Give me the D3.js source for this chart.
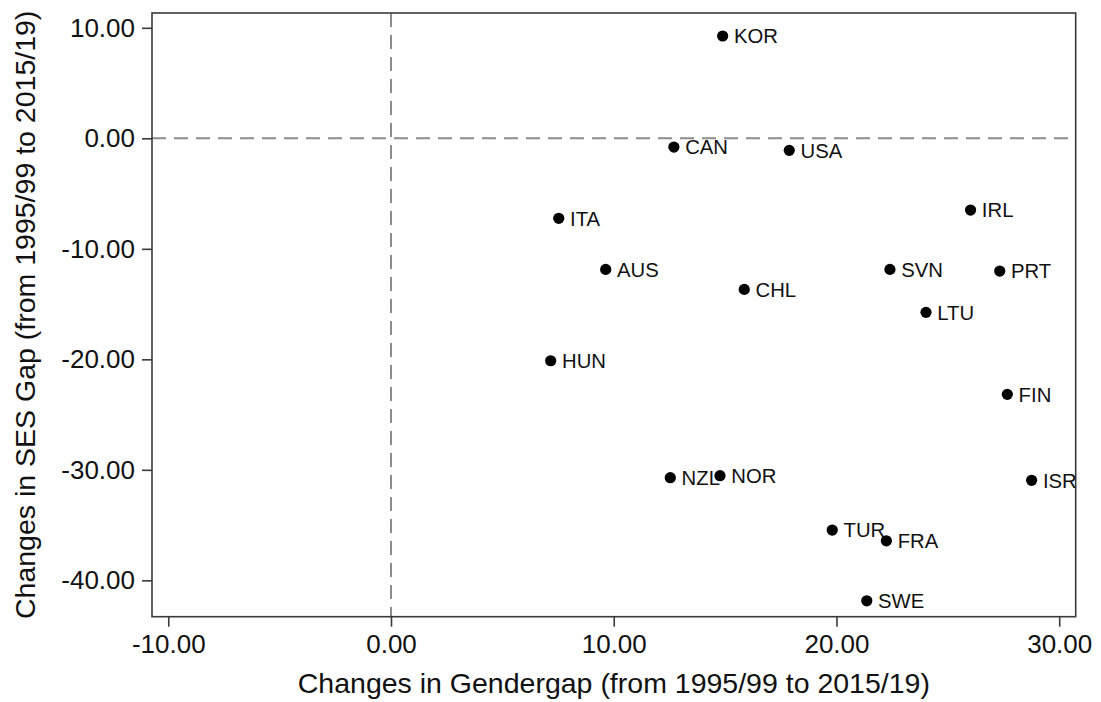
<!DOCTYPE html>
<html><head><meta charset="utf-8">
<script src="https://cdn.jsdelivr.net/npm/d3@7"></script>
<style>body{margin:0;background:#fff}svg{display:block}text{font-family:"Liberation Sans",Arial,sans-serif}</style>
</head><body><svg id="c" width="1101" height="702"></svg>
<script>
const countries = ["KOR","CAN","USA","ITA","IRL","AUS","CHL","HUN","NZL","NOR","SVN","PRT","LTU","FIN","ISR","TUR","FRA","SWE"];
const genderGap = [14.89,12.70,17.88,7.53,26.02,9.64,15.86,7.17,12.54,14.77,22.40,27.33,24.02,27.67,28.76,19.81,22.24,21.36];
const sesGap    = [9.26,-0.79,-1.09,-7.24,-6.49,-11.86,-13.67,-20.13,-30.71,-30.53,-11.86,-12.01,-15.75,-23.17,-30.95,-35.45,-36.42,-41.85];
const xTicks = [-10,0,10,20,30];
const yTicks = [10,0,-10,-20,-30,-40];
const xTitle = "Changes in Gendergap (from 1995/99 to 2015/19)";
const yTitle = "Changes in SES Gap (from 1995/99 to 2015/19)";

const svg = d3.select("#c");
const L=152, R=1075.7, T=13, B=616.7;
const x = d3.scaleLinear().domain([-10.73,30.74]).range([L,R]);
const y = d3.scaleLinear().domain([-43.29,11.34]).range([B,T]);

svg.append("line").attr("x1",x(0)).attr("x2",x(0)).attr("y1",T).attr("y2",B)
  .attr("stroke","#8c8c8c").attr("stroke-width",2).attr("stroke-dasharray","14,8");
svg.append("line").attr("x1",L).attr("x2",R).attr("y1",y(0)).attr("y2",y(0))
  .attr("stroke","#8c8c8c").attr("stroke-width",2).attr("stroke-dasharray","14,8");

svg.append("rect").attr("x",L).attr("y",T).attr("width",R-L).attr("height",B-T)
  .attr("fill","none").attr("stroke","#3a3a3a").attr("stroke-width",1.6);

const fmt = v => d3.format(".2f")(v).replace("\u2212","-");
const xa = svg.append("g").attr("transform",`translate(0,${B})`)
  .call(d3.axisBottom(x).tickValues(xTicks).tickFormat(fmt).tickSize(10).tickPadding(8));
const ya = svg.append("g").attr("transform",`translate(${L},0)`)
  .call(d3.axisLeft(y).tickValues(yTicks).tickFormat(fmt).tickSize(10).tickPadding(7));
[xa,ya].forEach(a=>{
  a.select(".domain").remove();
  a.selectAll(".tick line").attr("stroke","#3a3a3a").attr("stroke-width",1.6);
  a.selectAll(".tick text").attr("font-size","26px").attr("fill","#111")
   .style("font-family","'Liberation Sans',Arial,sans-serif");
});

const data = countries.map((c,i)=>({c, gx:genderGap[i], sy:sesGap[i]}));
const g = svg.append("g");
g.selectAll("circle").data(data).join("circle")
  .attr("cx",d=>x(d.gx)).attr("cy",d=>y(d.sy)).attr("r",5.6).attr("fill","#000");
g.selectAll("text").data(data).join("text")
  .attr("x",d=>x(d.gx)+11.3).attr("y",d=>y(d.sy)+7.3)
  .attr("font-size","20.3px").attr("fill","#111").text(d=>d.c);

svg.append("text").attr("x",(L+R)/2).attr("y",693).attr("text-anchor","middle")
  .attr("font-size","28.5px").attr("fill","#111").text(xTitle);
svg.append("text").attr("transform",`translate(35,${(T+B)/2}) rotate(-90)`).attr("text-anchor","middle")
  .attr("font-size","28.5px").attr("fill","#111").text(yTitle);
</script></body></html>
